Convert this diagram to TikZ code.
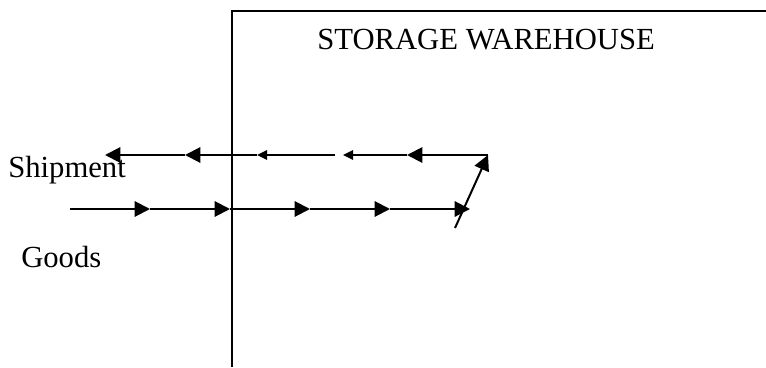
\documentclass[tikz,border=0pt]{standalone}
\usepackage{fontspec}
\setmainfont{Liberation Serif}
\usetikzlibrary{arrows.meta}
\begin{document}
\begin{tikzpicture}[x=0.75pt,y=-0.75pt,
  label/.style={inner sep=0pt,anchor=base west,font=\fontsize{23pt}{27pt}\selectfont},
  wall/.style={line width=1.2pt},
  flow/.style={line width=1.5pt},
  bigtip/.style={-{Triangle[length=11.5pt,width=11.5pt]}},
  smalltip/.style={-{Triangle[length=7.5pt,width=7pt]}}]
\useasboundingbox (0,0) rectangle (766,367);
% warehouse walls
\coordinate (wb) at (232,367);
\coordinate (wc) at (232,11);
\coordinate (wr) at (766,11);
\draw[wall] (wb) -- (wc) -- (wr);
\node[label] (title) at (317,50) {STORAGE WAREHOUSE};
\node[label] (ship) at (8,177) {Shipment};
\node[label] (goods) at (21,267) {Goods};
% incoming goods line
\coordinate (g0) at (70,209);
\coordinate (g1) at (150,209);
\coordinate (g2) at (230,209);
\coordinate (g3) at (310,209);
\coordinate (g4) at (390,209);
\coordinate (g5) at (470,209);
\draw[flow,bigtip] (g0) -- (g1);
\draw[flow,bigtip] (g1) -- (g2);
\draw[flow,bigtip] (g2) -- (g3);
\draw[flow,bigtip] (g3) -- (g4);
\draw[flow,bigtip] (g4) -- (g5);
% turn
\coordinate (d0) at (455,228);
\coordinate (s0) at (488,155);
\draw[flow,bigtip] (d0) -- (s0);
% outgoing shipment line
\coordinate (s1) at (407,155);
\coordinate (s2) at (343,155);
\coordinate (s3) at (335,155);
\coordinate (s4) at (257,155);
\coordinate (s5) at (185,155);
\coordinate (s6) at (105,155);
\draw[flow,bigtip] (s0) -- (s1);
\draw[flow,smalltip] (s1) -- (s2);
\draw[flow,smalltip] (s3) -- (s4);
\draw[flow,bigtip] (s4) -- (s5);
\draw[flow,bigtip] (s5) -- (s6);
\end{tikzpicture}
\end{document}
